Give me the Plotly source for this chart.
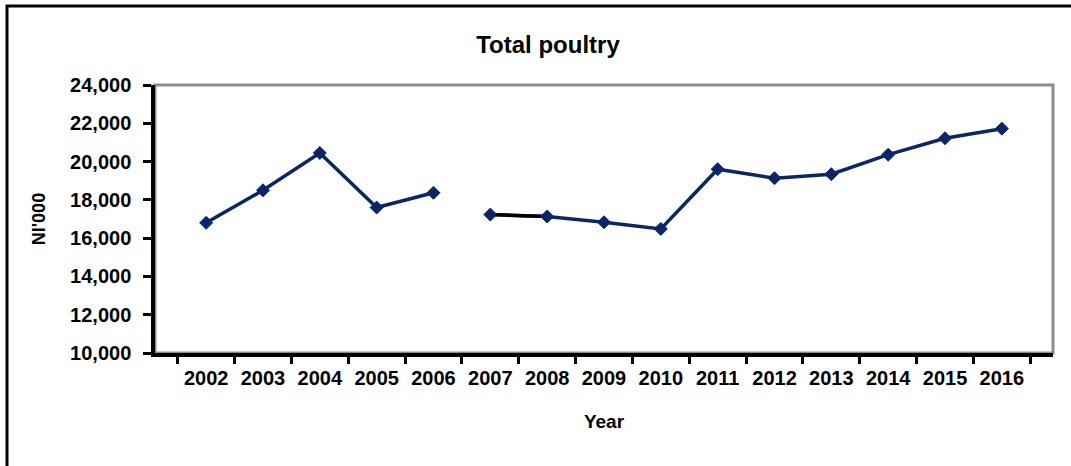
import plotly.graph_objects as go

years = ["2002", "2003", "2004", "2005", "2006", "2007", "2008", "2009",
         "2010", "2011", "2012", "2013", "2014", "2015", "2016"]
poultry = [16800, 18500, 20450, 17600, 18370, 17230, 17130, 16830,
           16480, 19600, 19130, 19340, 20360, 21220, 21720]

y_ticks = [10000, 12000, 14000, 16000, 18000, 20000, 22000, 24000]

NAVY = "#0b2566"
FONT = "Arial, Liberation Sans, sans-serif"

# split: series breaks between 2006 and 2007
i_break = years.index("2007")
seg1_x, seg1_y = years[:i_break], poultry[:i_break]
seg2_x, seg2_y = years[i_break:], poultry[i_break:]

fig = go.Figure()
marker = dict(symbol="diamond", size=10, color=NAVY, line=dict(color=NAVY, width=1))

fig.add_trace(go.Scatter(x=seg1_x, y=seg1_y, mode="lines+markers",
                         line=dict(color=NAVY, width=3.5), marker=marker,
                         showlegend=False))
fig.add_trace(go.Scatter(x=seg2_x, y=seg2_y, mode="lines",
                         line=dict(color=NAVY, width=3.5), showlegend=False))
# first segment of the second part is drawn black in the original
fig.add_trace(go.Scatter(x=seg2_x[:2], y=seg2_y[:2], mode="lines",
                         line=dict(color="black", width=3.5), showlegend=False))
fig.add_trace(go.Scatter(x=seg2_x, y=seg2_y, mode="markers", marker=marker,
                         showlegend=False))

W, H = 1071, 466
ml, mr, mt, mb = 155, 18, 85, 113
pw, ph = W - ml - mr, H - mt - mb

def px_x(p):
    return (p - ml) / pw

def px_y(p):
    return (H - mb - p) / ph

fig.update_layout(
    width=W, height=H,
    margin=dict(l=ml, r=mr, t=mt, b=mb, autoexpand=False),
    paper_bgcolor="white", plot_bgcolor="white",
    font=dict(family=FONT, color="black"),
    title=dict(text="<b>Total poultry</b>", x=548 / W, xref="container",
               xanchor="center", y=1 - 45 / H, yref="container", yanchor="middle",
               font=dict(size=24, family=FONT, color="black")),
    xaxis=dict(
        type="category", categoryorder="array", categoryarray=years,
        automargin=False,
        showgrid=False, zeroline=False,
        showline=True, linecolor="black", linewidth=3.5,
        ticks="outside", tickson="boundaries", ticklen=7, tickwidth=3, tickcolor="black",
        tickfont=dict(size=20, family=FONT, color="black", weight="bold"),
        ticklabelstandoff=4,
        title=dict(text="<b>Year</b>", font=dict(size=19, family=FONT, color="black"),
                   standoff=28),
    ),
    yaxis=dict(
        range=[10000, 24000], tickvals=y_ticks,
        ticktext=[f"{v:,}" for v in y_ticks],
        automargin=False,
        showgrid=False, zeroline=False,
        showline=True, linecolor="black", linewidth=3.5,
        ticks="outside", ticklen=8, tickwidth=3, tickcolor="black",
        tickfont=dict(size=20, family=FONT, color="black", weight="bold"),
        ticklabelstandoff=8,
        title=dict(text="<b>NI'000</b>", font=dict(size=18, family=FONT, color="black"),
                   standoff=21),
    ),
    shapes=[
        # gray plot-area frame (top/right visible)
        dict(type="rect", xref="paper", yref="paper", x0=0, x1=1, y0=0, y1=1,
             line=dict(color="#8c8c8c", width=3), layer="below"),
        # outer chart border
        dict(type="rect", xref="paper", yref="paper",
             x0=px_x(7), x1=px_x(1080), y0=px_y(475), y1=px_y(6),
             line=dict(color="black", width=3), layer="below"),
    ],
)

fig.write_html("out.html", config={"displayModeBar": False},
               post_script="document.body.style.margin='0';document.body.style.overflow='hidden';")
